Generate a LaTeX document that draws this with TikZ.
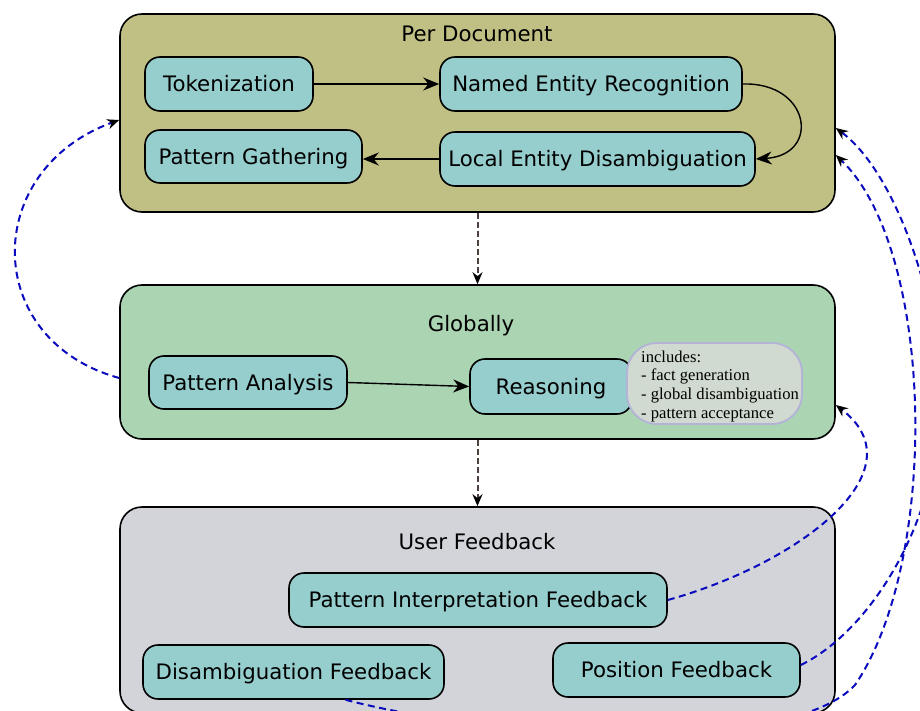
\documentclass[tikz,border=0pt]{standalone}
\usepackage{fontspec}
\setmainfont{DejaVu Sans}
\newfontfamily\notefont{Liberation Serif}
\usetikzlibrary{arrows.meta,calc}

\definecolor{docfill}{RGB}{192,192,132}
\definecolor{globfill}{RGB}{170,212,178}
\definecolor{userfill}{RGB}{211,212,218}
\definecolor{taskfill}{RGB}{150,206,206}
\definecolor{notefill}{RGB}{208,218,208}
\definecolor{noteedge}{RGB}{180,178,214}
\definecolor{loopblue}{RGB}{10,10,190}
\definecolor{stagearrow}{RGB}{78,62,62}

% indented line inside the note bubble
\newcommand{\noteitem}[1]{\hspace*{11pt}#1}

\begin{document}
\begin{tikzpicture}[x=1pt,y=-1pt,
  stage/.style={draw=black, line width=1.6pt, rounded corners=22pt,
    minimum width=715pt, inner sep=0pt},
  stagetitle/.style={font=\fontsize{21.3}{25}\selectfont, inner sep=0pt,
    text height=15.5pt, text depth=0pt},
  task/.style={draw=black, line width=1.6pt, rounded corners=15pt, fill=taskfill,
    font=\fontsize{21.3}{25}\selectfont, inner xsep=4pt, inner ysep=0pt,
    text height=15.5pt, text depth=0pt},
  note/.style={draw=noteedge, line width=1.8pt, rounded corners=30pt, fill=notefill,
    font=\notefont\fontsize{16.6}{18.7}\selectfont, align=left,
    minimum width=175pt, minimum height=81pt, inner xsep=2pt, inner ysep=0pt},
  flow/.style={line width=1.4pt, -{Stealth[length=16pt,width=13pt]}},
  stageflow/.style={draw=stagearrow, line width=2pt, dash pattern=on 6pt off 3pt,
    -{Stealth[length=12pt,width=10pt,color=black]}},
  feedback/.style={draw=loopblue, line width=2pt, dash pattern=on 7pt off 4.5pt,
    -{Stealth[length=12pt,width=10pt,color=black]}}
]
\useasboundingbox (0,0) rectangle (920,711);
\clip (0,0) rectangle (920,711);

% the three stages
\node[stage, fill=docfill, minimum height=198pt] (per) at (477.5,113) {};
\node[stage, fill=globfill, minimum height=154pt] (glob) at (477.5,362) {};
\node[stage, fill=userfill, minimum height=206pt] (user) at (477.5,610) {};

\node[stagetitle] (pertitle) at (477,34) {Per Document};
\node[stagetitle] (globtitle) at (471,323.5) {Globally};
\node[stagetitle] (usertitle) at (477,541.5) {User Feedback};

% per-document steps
\node[task, minimum width=168pt, minimum height=54pt] (tok) at (229,84) {Tokenization};
\node[task, minimum width=302pt, minimum height=54pt] (ner) at (591,84) {Named Entity Recognition};
\node[task, minimum width=217pt, minimum height=53pt] (pg) at (253.5,156.5) {Pattern Gathering};
\node[task, minimum width=315pt, minimum height=54pt] (led) at (597.5,159) {Local Entity Disambiguation};

% global steps
\node[task, minimum width=198pt, minimum height=53pt] (pa) at (248,382.5) {Pattern Analysis};
\node[task, minimum width=162pt, minimum height=55pt] (reas) at (551,386.5) {Reasoning};
\node[note] (incl) at (714.5,383.5) {\rule{0pt}{17pt}\noteitem{includes:}\\\noteitem{- fact generation}\\\noteitem{- global disambiguation}\\\noteitem{- pattern acceptance}};

% feedback kinds
\node[task, minimum width=378pt, minimum height=54pt] (pif) at (478,600) {Pattern Interpretation Feedback};
\node[task, minimum width=301pt, minimum height=54pt] (dis) at (293.5,672) {Disambiguation Feedback};
\node[task, minimum width=247pt, minimum height=54pt] (pos) at (676.5,670) {Position Feedback};

% pipeline inside the per-document stage
\draw[flow] (tok) -- (ner);
\draw[flow] (ner.east) .. controls +(68,-2) and +(65,-4) .. (led.east);
\draw[flow] (led.west) -- (pg.east |- led.west);
\draw[flow] (pa.east) -- (reas.west);

% stage to stage
\draw[stageflow] (per.south) -- (glob.north);
\draw[stageflow] (glob.south) -- (user.north);

% feedback loops
\draw[feedback] ($(glob.west)+(0,16)$) .. controls +(-138,-38) and +(-138,50) .. ($(per.west)+(0,7)$);
\draw[feedback] (pif.east) .. controls +(133,-37) and +(85,65) .. ($(glob.east)+(0,43)$);
\draw[feedback] ($(pos.east)+(0,-5)$) .. controls +(70,-34) and (940,520) .. (940,400)
  .. controls (940,300) and (895,172) .. ($(per.east)+(0,15)$);
\draw[feedback] ($(dis.south)+(52,0)$) .. controls (500,740) and (790,755) .. (855,685)
  .. controls (940,560) and (935,250) .. ($(per.east)+(0,42)$);
\end{tikzpicture}
\end{document}
